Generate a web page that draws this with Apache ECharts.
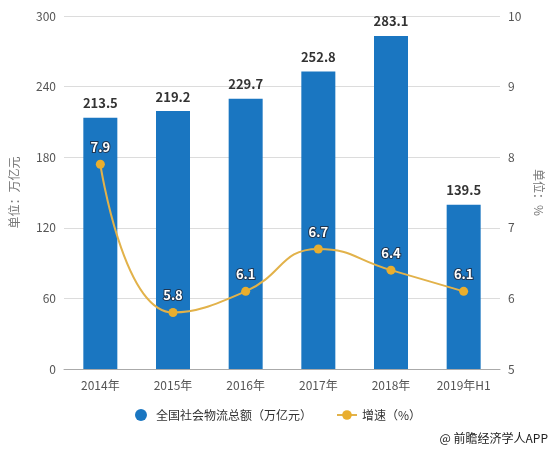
<!DOCTYPE html>
<html>
<head>
<meta charset="utf-8">
<script src="https://cdn.jsdelivr.net/npm/echarts@6/dist/echarts.min.js"></script>
<style>
  html, body { margin: 0; padding: 0; background: #fff; }
  #demo { width: 556px; height: 450px; }
</style>
</head>
<body>
<div id="demo"></div>
<script>
var years = ['2014年', '2015年', '2016年', '2017年', '2018年', '2019年H1'];
var totalAmount = [213.5, 219.2, 229.7, 252.8, 283.1, 139.5];
var growthRate = [7.9, 5.8, 6.1, 6.7, 6.4, 6.1];

var fontFamily = '"Microsoft YaHei", "Noto Sans CJK SC", sans-serif';

var option = {
    backgroundColor: '#fff',
    textStyle: { fontFamily: fontFamily },
    grid: {
        left: 62,
        right: 56,
        top: 16,
        bottom: 81
    },
    legend: {
        data: [
            { name: '全国社会物流总额（万亿元）', icon: 'circle' },
            { name: '增速（%）' }
        ],
        bottom: 24,
        itemGap: 24,
        itemWidth: 20,
        itemHeight: 12,
        textStyle: { color: '#333', fontSize: 12, fontFamily: fontFamily }
    },
    graphic: [{
        type: 'text',
        right: 8,
        bottom: 6,
        style: {
            text: '@ 前瞻经济学人APP',
            fill: '#222',
            fontSize: 12,
            fontFamily: fontFamily
        }
    }],
    xAxis: [{
        type: 'category',
        data: years,
        axisLine: { lineStyle: { color: '#aaa' } },
        axisTick: { alignWithLabel: true, lineStyle: { color: '#aaa' } },
        axisLabel: { color: '#555', fontSize: 12, margin: 10 }
    }],
    yAxis: [
        {
            type: 'value',
            min: 0,
            max: 300,
            interval: 60,
            name: '单位：万亿元',
            nameLocation: 'middle',
            nameGap: 44,
            nameTextStyle: { color: '#777', fontSize: 12 },
            axisLine: { show: false },
            axisTick: { show: false },
            axisLabel: { color: '#555', fontSize: 12 },
            splitLine: { lineStyle: { color: '#dcdcdc' } }
        },
        {
            type: 'value',
            min: 5,
            max: 10,
            interval: 1,
            name: '单位：%',
            nameLocation: 'middle',
            nameRotate: -90,
            nameGap: 33,
            nameTextStyle: { color: '#777', fontSize: 12 },
            axisLine: { show: false },
            axisTick: { show: false },
            axisLabel: { color: '#555', fontSize: 12 },
            splitLine: { show: false }
        }
    ],
    series: [
        {
            name: '全国社会物流总额（万亿元）',
            type: 'bar',
            barWidth: 34,
            itemStyle: { color: '#1a76c1' },
            label: {
                show: true,
                position: 'top',
                color: '#333',
                fontWeight: 'bold',
                fontSize: 13,
                distance: 8
            },
            data: totalAmount
        },
        {
            name: '增速（%）',
            type: 'line',
            yAxisIndex: 1,
            smooth: true,
            symbol: 'circle',
            symbolSize: 9,
            itemStyle: { color: '#e9ae2e' },
            lineStyle: { color: '#e2b24a', width: 2 },
            label: {
                show: true,
                position: 'top',
                color: '#fff',
                fontWeight: 'bold',
                fontSize: 13,
                textBorderColor: '#1f3550',
                textBorderWidth: 2,
                distance: 6
            },
            data: growthRate
        }
    ]
};

var myCharts = echarts.init(document.getElementById('demo'));
myCharts.setOption(option);
</script>
</body>
</html>
